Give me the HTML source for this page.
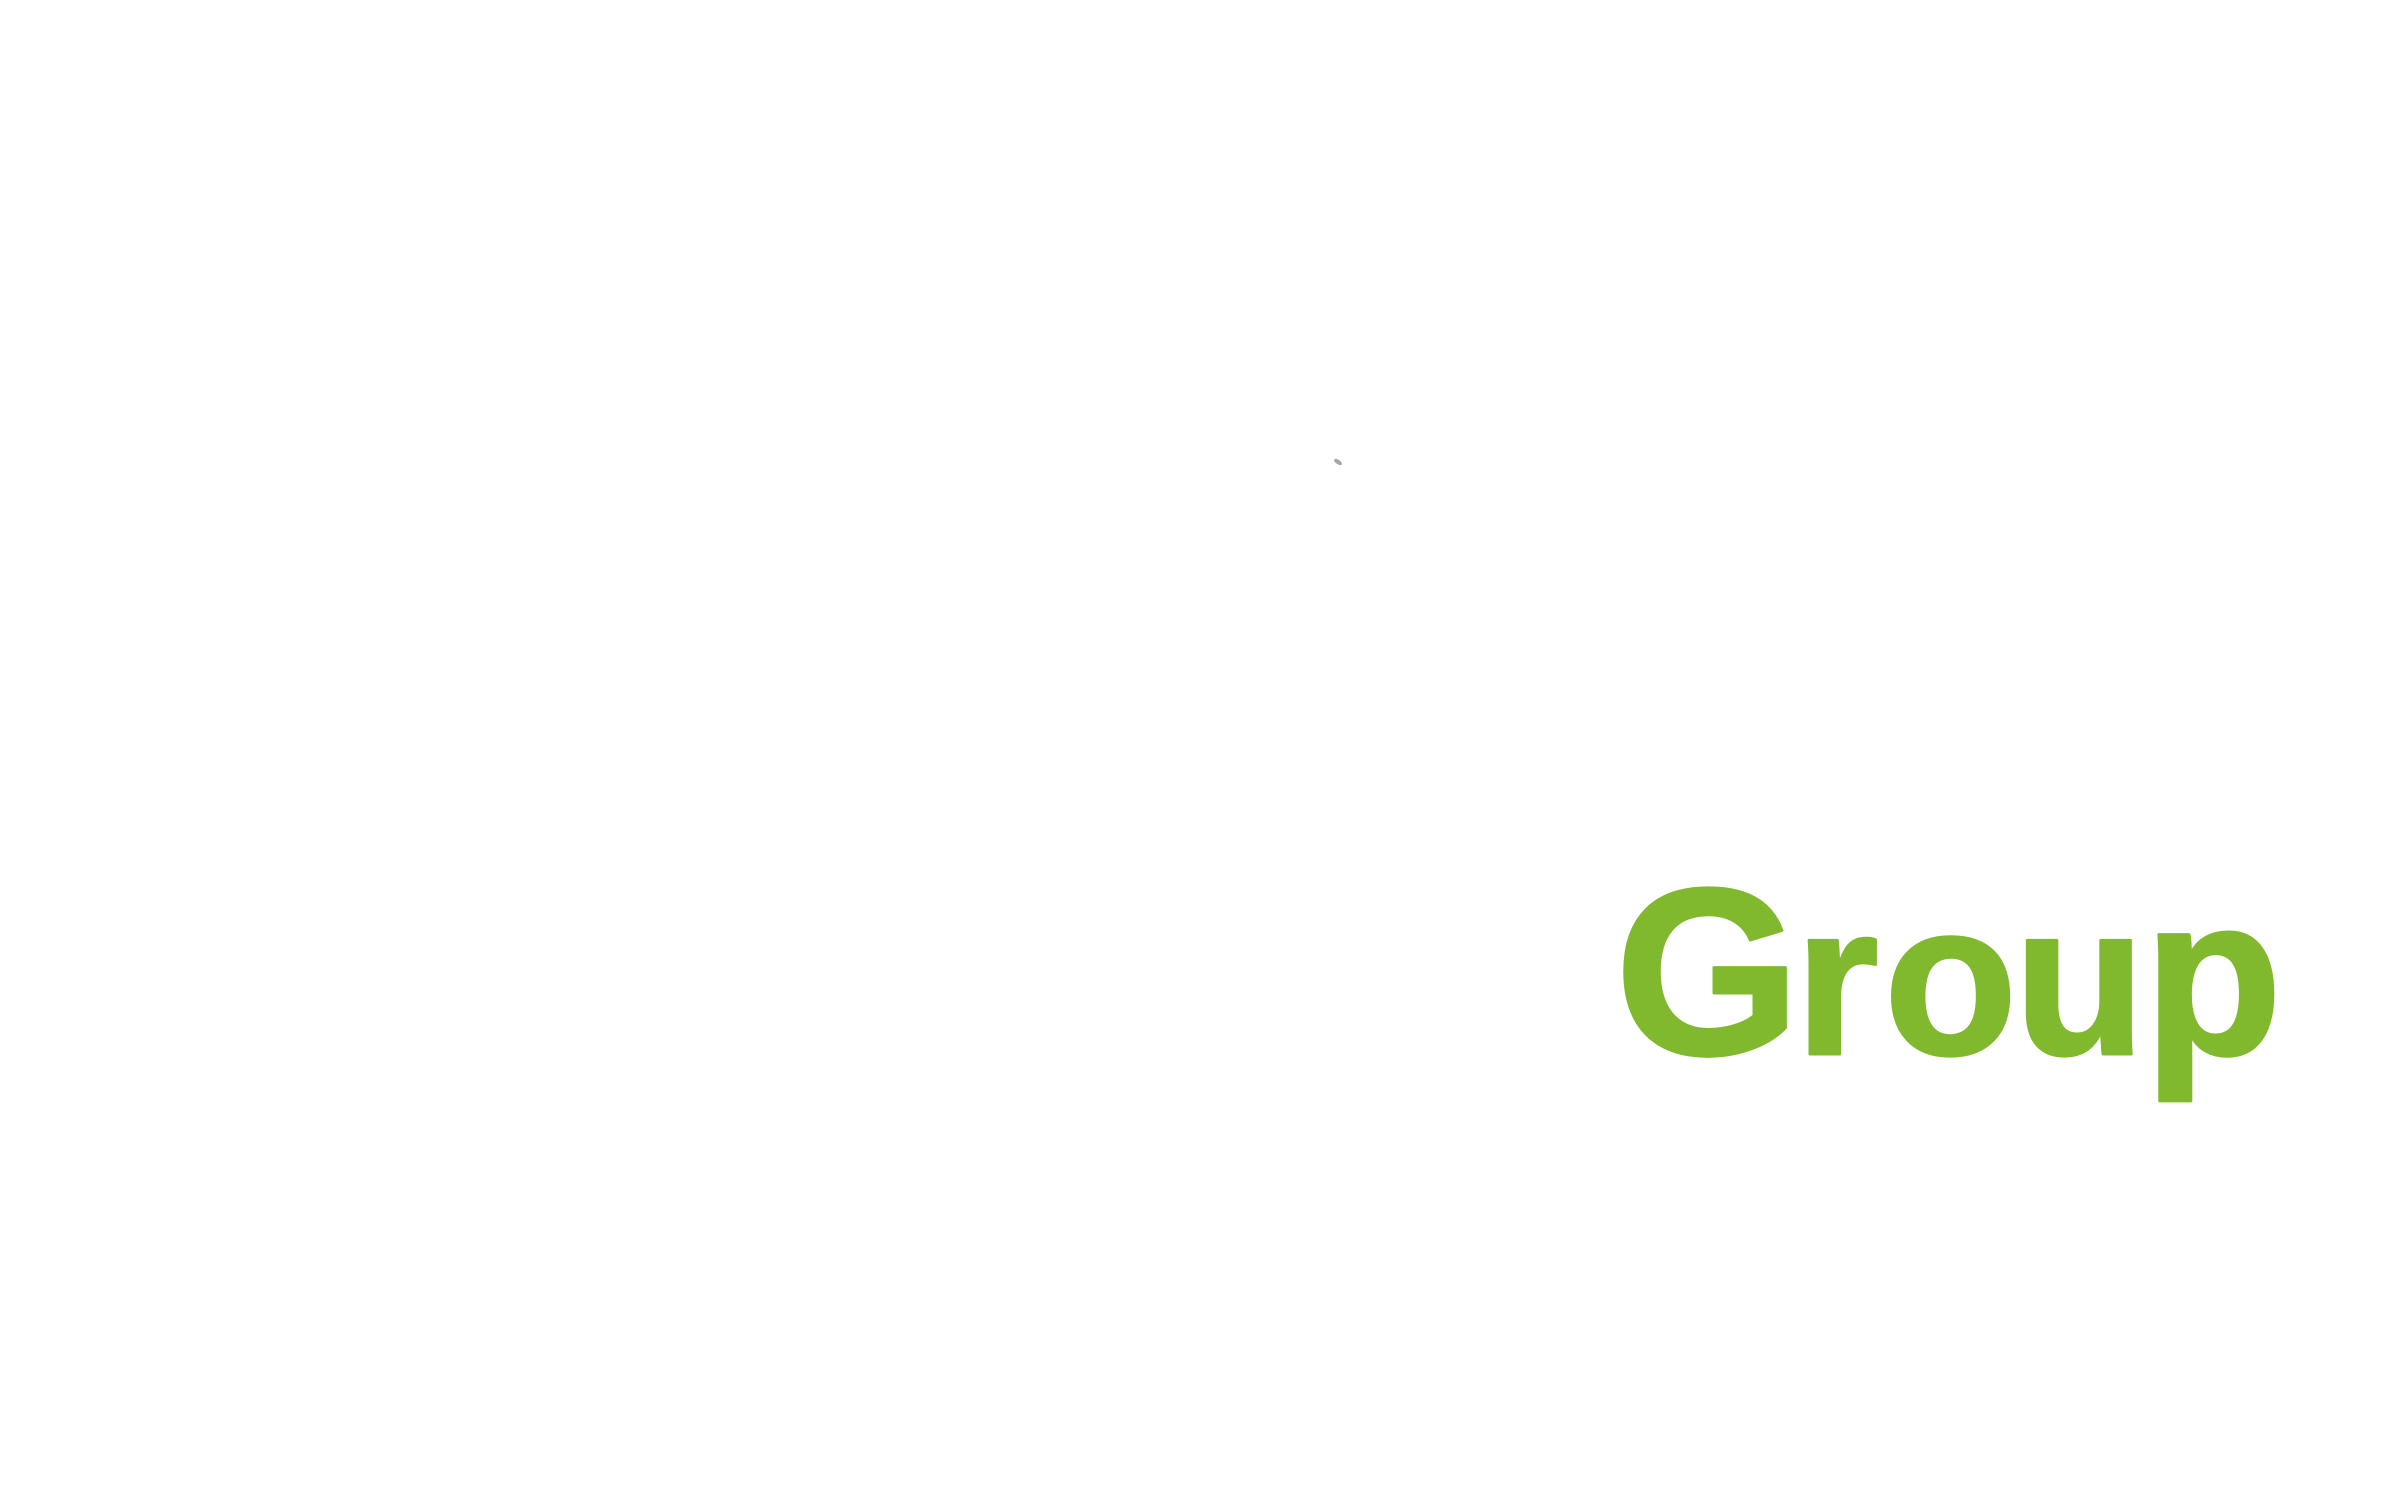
<!DOCTYPE html>
<html lang="en">
<head>
<meta charset="utf-8">
<title>Group logo</title>
<style>
html,body{margin:0;padding:0;background:#fff;width:2400px;height:1500px;overflow:hidden}
svg{display:block}
</style>
</head>
<body>
<svg width="2400" height="1500" viewBox="0 0 2400 1500" xmlns="http://www.w3.org/2000/svg">
  <rect x="0" y="0" width="2400" height="1500" fill="#ffffff"/>
  <ellipse cx="1338" cy="462" rx="4.5" ry="2.2" transform="rotate(35 1338 462)" fill="#8a8a8a" opacity="0.75"/>
  <text y="1054" font-family="'Liberation Sans', sans-serif" font-weight="700" fill="#80b92e" stroke="#80b92e" stroke-width="3" stroke-linejoin="round"><tspan x="1615" font-size="238">G</tspan><tspan x="1795" font-size="215">r</tspan><tspan x="1884" font-size="218">o</tspan><tspan x="2014" font-size="215">u</tspan><tspan x="2144" font-size="226">p</tspan></text>
</svg>
</body>
</html>
